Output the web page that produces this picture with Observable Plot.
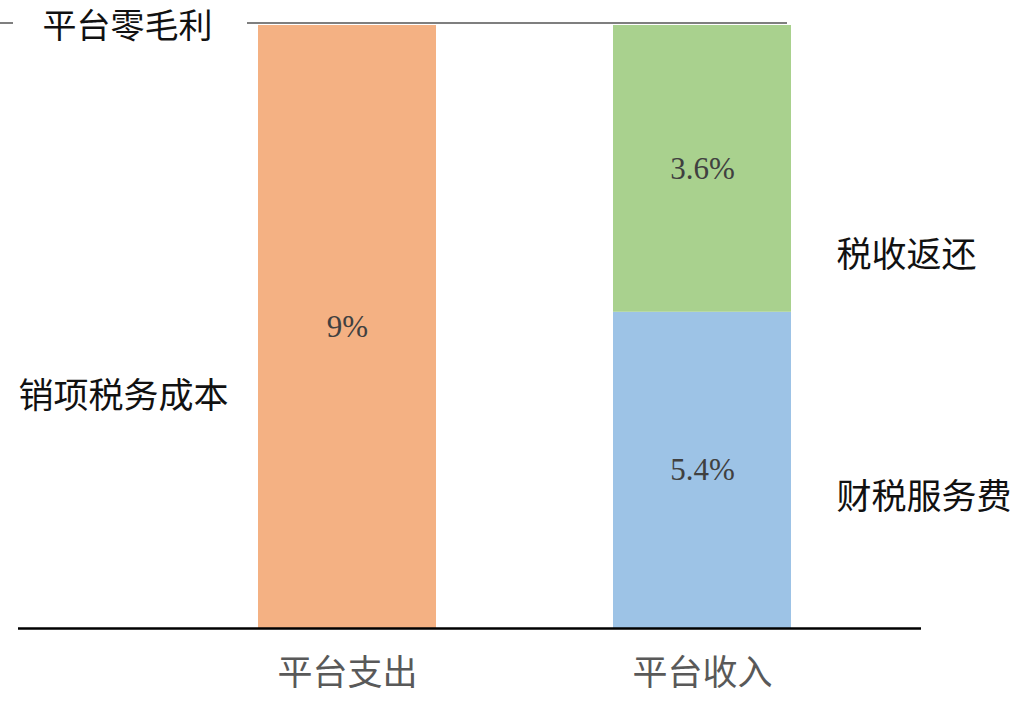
<!DOCTYPE html>
<html>
<head>
<meta charset="utf-8">
<script src="https://cdn.jsdelivr.net/npm/d3@7"></script>
<script src="https://cdn.jsdelivr.net/npm/@observablehq/plot@0.6"></script>
<style>
  html, body { margin: 0; padding: 0; background: #fff; }
  #chart { width: 1020px; height: 703px; }
</style>
</head>
<body>
<div id="chart"></div>
<script>
// ---- data ----
const categories = ["平台支出", "平台收入"];
const barCategory = ["平台支出", "平台收入", "平台收入"];
const segments = ["销项税务成本", "财税服务费", "税收返还"];
// segment heights as drawn in the picture (diagram is not to scale)
const drawnHeight = [9, 4.72, 4.28];
const valueLabels = ["9%", "5.4%", "3.6%"];
const segmentColors = ["#F4B183", "#9DC3E6", "#A9D18E"];
const topLevel = 9;
const topLabel = "平台零毛利";
const leftLabel = "销项税务成本";
const rightLabels = ["税收返还", "财税服务费"];

const rows = segments.map((s, i) => ({
  cat: barCategory[i], seg: s, h: drawnHeight[i], label: valueLabels[i]
}));

const CJK = "'Noto Sans CJK SC', 'Noto Sans', sans-serif";

const plot = Plot.plot({
  width: 1020,
  height: 703,
  marginTop: 25,
  marginBottom: 75,
  marginLeft: 18,
  marginRight: 99,
  style: { background: "white", overflow: "visible" },
  x: { domain: categories, range: [80, 968], padding: 0.5, axis: null },
  y: { domain: [0, topLevel], axis: null },
  color: { domain: segments, range: segmentColors },
  marks: [
    Plot.barY(rows, { x: "cat", y: "h", fill: "seg" }),
    Plot.text(rows, Plot.stackY({
      x: "cat", y: "h", text: "label",
      fill: "#404040", fontSize: 31, fontFamily: "'Liberation Serif', 'DejaVu Serif', serif"
    })),
    Plot.ruleY([0], { stroke: "#000", strokeWidth: 2.5 }),
    // category labels below baseline
    Plot.text(categories, {
      x: d => d, text: d => d, frameAnchor: "bottom", dy: 45,
      fontSize: 35, fontFamily: CJK, fill: "#595959", lineAnchor: "middle"
    }),
    // top label
    Plot.text([topLabel], {
      text: d => d, frameAnchor: "top-left", dx: 24, dy: 2, textAnchor: "start",
      lineAnchor: "middle", fontSize: 34, fontFamily: CJK, fill: "#111"
    }),
    // left label
    Plot.text([leftLabel], {
      text: d => d, frameAnchor: "left", dy: 70, textAnchor: "start",
      lineAnchor: "middle", fontSize: 35, fontFamily: CJK, fill: "#111"
    }),
    // right labels
    Plot.text([rightLabels[0]], {
      text: d => d, frameAnchor: "right", dx: -85, dy: -71, textAnchor: "start",
      lineAnchor: "middle", fontSize: 35, fontFamily: CJK, fill: "#111"
    }),
    Plot.text([rightLabels[1]], {
      text: d => d, frameAnchor: "right", dx: -85, dy: 171, textAnchor: "start",
      lineAnchor: "middle", fontSize: 35, fontFamily: CJK, fill: "#111"
    })
  ]
});

// top "zero margin" reference line at y = topLevel, drawn through the y scale
const yTop = plot.scale("y").apply(topLevel) - 2;
const svg = d3.select(plot.tagName === "svg" ? plot : plot.querySelector("svg"));
[[0, 13], [247, 787]].forEach(([a, b]) => {
  svg.append("line")
    .attr("x1", a).attr("x2", b).attr("y1", yTop).attr("y2", yTop)
    .attr("stroke", "#7f7f7f").attr("stroke-width", 2);
});

document.getElementById("chart").appendChild(plot);
</script>
</body>
</html>
